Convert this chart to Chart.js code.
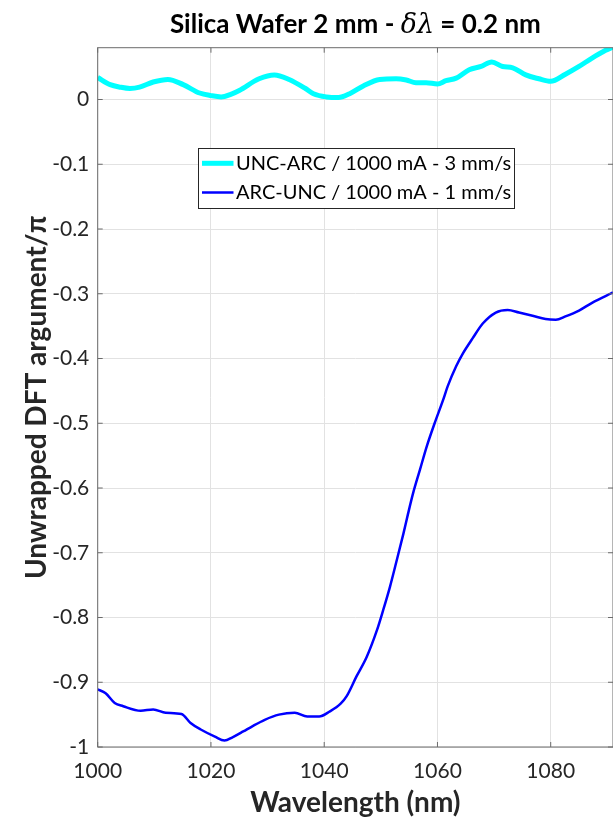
<!DOCTYPE html>
<html><head><meta charset="utf-8">
<script src="https://cdn.jsdelivr.net/npm/chart.js@4.4.1/dist/chart.umd.min.js"></script>
<style>html,body{margin:0;padding:0;background:#fff;}</style>
</head><body>
<canvas id="c" width="613" height="818"></canvas>
<script>
// ---- data ----
const chartTitleMain = 'Silica Wafer 2 mm - ';
const chartTitleSym = 'δλ';
const chartTitleEnd = ' = 0.2 nm';
const xAxisTitle = 'Wavelength (nm)';
const yAxisTitle = 'Unwrapped DFT argument/π';
const seriesLabels = ['UNC-ARC / 1000 mA - 3 mm/s', 'ARC-UNC / 1000 mA - 1 mm/s'];
const xTickValues = [1000, 1020, 1040, 1060, 1080];
const yTickValues = [0, -0.1, -0.2, -0.3, -0.4, -0.5, -0.6, -0.7, -0.8, -0.9, -1];

const uncArcX = [1000, 1002.2, 1004, 1005.7, 1007.4, 1009.8, 1012.4, 1015.1, 1018, 1020, 1021.8, 1023.5, 1025, 1028.5, 1031.2, 1033.8, 1036.7, 1038.1, 1040.4, 1042.5, 1044.5, 1046.9, 1049.8, 1052.7, 1054.5, 1056.2, 1058, 1060, 1061.5, 1063.3, 1065.6, 1067.7, 1069.6, 1071.5, 1073.3, 1075.6, 1077.9, 1080, 1082.6, 1085, 1087.3, 1089.7, 1091];
const uncArcY = [0.034, 0.023, 0.019, 0.017, 0.019, 0.027, 0.031, 0.023, 0.010, 0.006, 0.004, 0.008, 0.014, 0.032, 0.038, 0.031, 0.017, 0.009, 0.004, 0.003, 0.009, 0.021, 0.031, 0.032, 0.030, 0.026, 0.026, 0.024, 0.029, 0.033, 0.046, 0.051, 0.058, 0.051, 0.049, 0.038, 0.032, 0.028, 0.039, 0.051, 0.064, 0.076, 0.081];

const arcUncX = [1000, 1001.4, 1003, 1004.5, 1007.6, 1009.8, 1012, 1014.8, 1016.4, 1018.2, 1020.7, 1022.4, 1023.8, 1025.7, 1027.3, 1029.5, 1032, 1034.8, 1037, 1039.1, 1041, 1042.9, 1044, 1045.7, 1047.5, 1049.3, 1050.4, 1051.6, 1052.8, 1054, 1054.8, 1055.7, 1056.9, 1058.1, 1059.5, 1061, 1061.8, 1063.3, 1064.5, 1066.2, 1068, 1070.3, 1072.4, 1074.4, 1076.8, 1079.1, 1080.9, 1082.6, 1085, 1087.3, 1091];
const arcUncY = [-0.911, -0.917, -0.932, -0.937, -0.944, -0.942, -0.947, -0.949, -0.963, -0.973, -0.984, -0.990, -0.985, -0.976, -0.968, -0.958, -0.950, -0.947, -0.953, -0.953, -0.945, -0.933, -0.921, -0.891, -0.861, -0.820, -0.789, -0.753, -0.712, -0.670, -0.640, -0.608, -0.572, -0.536, -0.500, -0.464, -0.443, -0.412, -0.392, -0.369, -0.346, -0.329, -0.325, -0.329, -0.334, -0.339, -0.340, -0.335, -0.326, -0.314, -0.298];

// ---- styles ----
const FONT = 'Lato';
const AXIS_COLOR = '#6b6b6b';
const TEXT_COLOR = '#262626';

const toPts = (xs, ys) => xs.map((x, i) => ({x: x, y: ys[i]}));

const frameTicksPlugin = {
  id: 'frameTicks',
  afterDatasetsDraw(chart) {
    const {ctx, chartArea: a, scales} = chart;
    ctx.save();
    ctx.strokeStyle = AXIS_COLOR;
    ctx.lineWidth = 1;
    ctx.strokeRect(a.left, a.top, a.right - a.left, a.bottom - a.top);
    const L = 5;
    ctx.beginPath();
    xTickValues.forEach(v => {
      const px = scales.x.getPixelForValue(v);
      ctx.moveTo(px, a.bottom); ctx.lineTo(px, a.bottom - L);
      ctx.moveTo(px, a.top); ctx.lineTo(px, a.top + L);
    });
    yTickValues.forEach(v => {
      const py = scales.y.getPixelForValue(v);
      ctx.moveTo(a.left, py); ctx.lineTo(a.left + L, py);
      ctx.moveTo(a.right, py); ctx.lineTo(a.right - L, py);
    });
    ctx.stroke();
    ctx.restore();
  }
};

const titlePlugin = {
  id: 'mixedTitle',
  afterDraw(chart) {
    const {ctx, chartArea: a} = chart;
    ctx.save();
    const fB = 'bold 26px ' + FONT;
    const fS = 'italic 27px "DejaVu Serif"';
    ctx.font = fB; const w1 = ctx.measureText(chartTitleMain).width;
    const w3 = ctx.measureText(chartTitleEnd).width;
    ctx.font = fS; const w2 = ctx.measureText(chartTitleSym).width;
    const total = w1 + w2 + w3;
    let x = (a.left + a.right) / 2 - total / 2;
    const y = 32.5;
    ctx.fillStyle = '#000';
    ctx.textBaseline = 'alphabetic';
    ctx.textAlign = 'left';
    ctx.font = fB; ctx.fillText(chartTitleMain, x, y); x += w1;
    ctx.font = fS; ctx.fillText(chartTitleSym, x, y); x += w2;
    ctx.font = fB; ctx.fillText(chartTitleEnd, x, y);
    ctx.restore();
  }
};

const legendPlugin = {
  id: 'boxLegend',
  afterDraw(chart) {
    const {ctx} = chart;
    const bx = 198.5, by = 148.5, bw = 316, bh = 60;
    ctx.save();
    ctx.fillStyle = '#fff';
    ctx.fillRect(bx, by, bw, bh);
    ctx.strokeStyle = '#262626';
    ctx.lineWidth = 1;
    ctx.strokeRect(bx, by, bw, bh);
    const rows = [163.3, 192.5];
    chart.data.datasets.forEach((ds, i) => {
      ctx.strokeStyle = ds.borderColor;
      ctx.lineWidth = ds.borderWidth;
      ctx.beginPath();
      ctx.moveTo(202, rows[i]); ctx.lineTo(233.5, rows[i]);
      ctx.stroke();
      ctx.fillStyle = '#000';
      ctx.font = '20px ' + FONT;
      ctx.textBaseline = 'middle';
      ctx.textAlign = 'left';
      ctx.fillText(ds.label, 236, rows[i]);
    });
    ctx.restore();
  }
};

new Chart(document.getElementById('c'), {
  type: 'line',
  data: {
    datasets: [
      {label: seriesLabels[0], data: toPts(uncArcX, uncArcY), borderColor: '#00ffff', borderWidth: 5, pointRadius: 0, cubicInterpolationMode: 'monotone', clip: 0},
      {label: seriesLabels[1], data: toPts(arcUncX, arcUncY), borderColor: '#0000ff', borderWidth: 2.5, pointRadius: 0, cubicInterpolationMode: 'monotone', clip: 0}
    ]
  },
  options: {
    responsive: false,
    animation: false,
    devicePixelRatio: 1,
    layout: {padding: {top: 47.7, left: 0, right: 0, bottom: 0}},
    plugins: {legend: {display: false}, title: {display: false}, tooltip: {enabled: false}},
    scales: {
      x: {
        type: 'linear', min: 1000, max: 1091,
        afterBuildTicks: s => { s.ticks = xTickValues.map(v => ({value: v})); },
        afterFit: s => { s.height = 71; },
        grid: {color: '#e2e2e2', drawTicks: false, lineWidth: 1},
        border: {display: false},
        ticks: {padding: 12, autoSkip: false, maxRotation: 0, color: TEXT_COLOR, font: {family: FONT, size: 21}, callback: v => String(v)},
        title: {display: true, text: xAxisTitle, color: TEXT_COLOR, font: {family: FONT, size: 28, weight: 'bold', lineHeight: 1.04}, padding: {top: 0, bottom: 0}}
      },
      y: {
        type: 'linear', min: -1, max: 0.08,
        afterBuildTicks: s => { s.ticks = yTickValues.map(v => ({value: v})); },
        afterFit: s => { s.width = 97.7; },
        grid: {color: '#e2e2e2', drawTicks: false, lineWidth: 1},
        border: {display: false},
        ticks: {padding: 8.4, autoSkip: false, color: TEXT_COLOR, font: {family: FONT, size: 21}, callback: v => String(v)},
        title: {display: true, text: yAxisTitle, color: TEXT_COLOR, font: {family: FONT, size: 28, weight: 'bold', lineHeight: 1.2}, padding: {top: 20.5, bottom: 0}}
      }
    }
  },
  plugins: [frameTicksPlugin, titlePlugin, legendPlugin]
});
</script>
</body></html>
